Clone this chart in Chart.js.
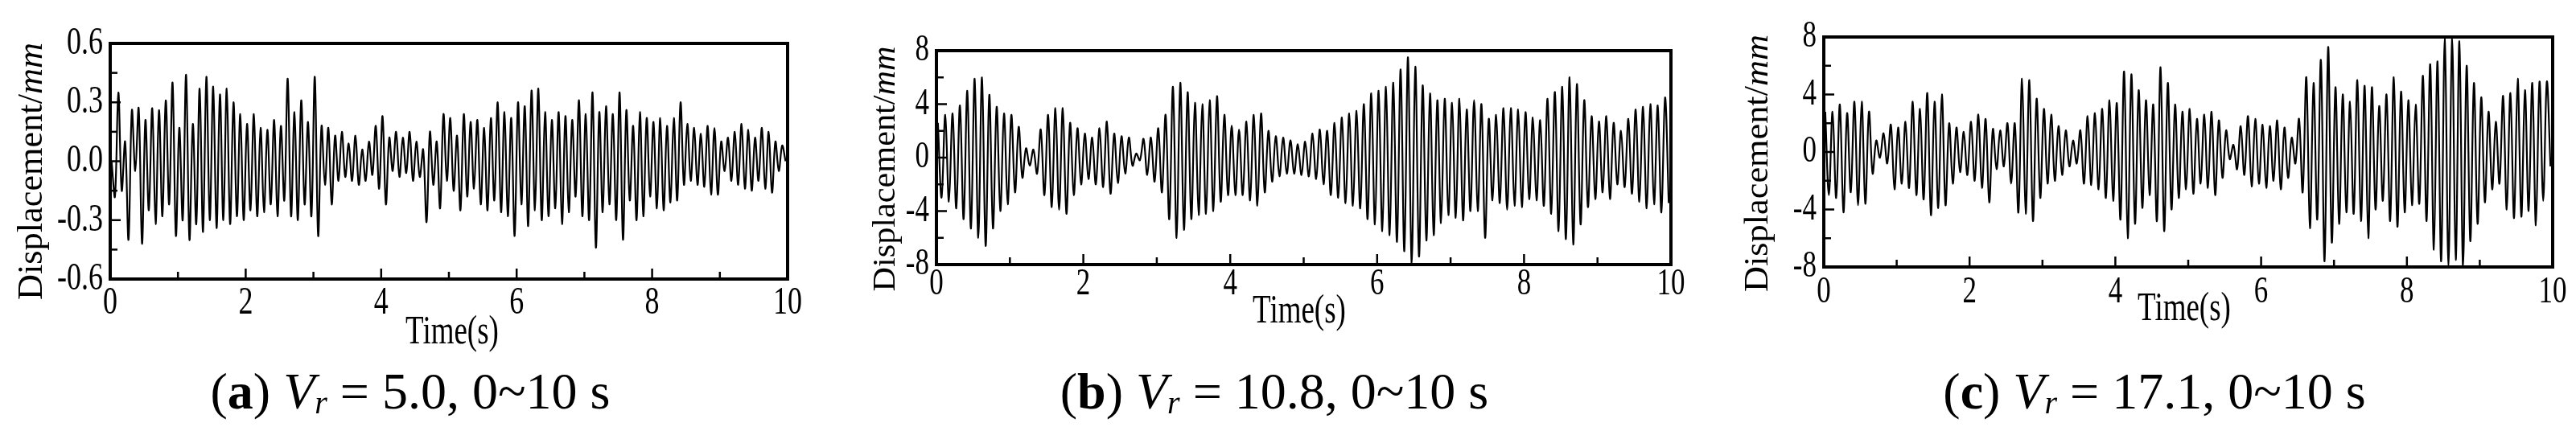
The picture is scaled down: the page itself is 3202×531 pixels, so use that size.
<!DOCTYPE html>
<html><head><meta charset="utf-8">
<script src="https://cdn.jsdelivr.net/npm/chart.js@4"></script>
<style>html,body{margin:0;padding:0;background:#fff;width:3202px;height:531px;overflow:hidden}
canvas{position:absolute;top:0}</style></head>
<body>
<canvas id="ca" style="left:0px" width="1050" height="531"></canvas>
<canvas id="cb" style="left:1050px" width="1100" height="531"></canvas>
<canvas id="cc" style="left:2150px" width="1052" height="531"></canvas>
<script>
// Extremes (peak, trough) for each 0.1 s step
const seriesA = [0.0,-0.18, 0.35,-0.15, 0.10,-0.40, 0.26,-0.05, 0.27,-0.42, 0.21,-0.25, 0.27,-0.32, 0.26,-0.28, 0.31,-0.22, 0.40,-0.38,
0.17,-0.30, 0.44,-0.40, 0.19,-0.32, 0.37,-0.36, 0.43,-0.30, 0.38,-0.34, 0.34,-0.30, 0.37,-0.32, 0.30,-0.28, 0.24,-0.30,
0.19,-0.25, 0.24,-0.28, 0.17,-0.26, 0.16,-0.22, 0.21,-0.28, 0.18,-0.20, 0.42,-0.28, 0.25,-0.30, 0.31,-0.22, 0.20,-0.28,
0.43,-0.38, 0.18,-0.12, 0.17,-0.22, 0.13,-0.10, 0.15,-0.08, 0.09,-0.10, 0.13,-0.12, 0.06,-0.10, 0.10,-0.07, 0.18,-0.14,
0.23,-0.22, 0.12,-0.05, 0.15,-0.08, 0.12,-0.06, 0.15,-0.10, 0.10,-0.08, 0.06,-0.31, 0.15,-0.12, 0.10,-0.24, 0.24,-0.10,
0.22,-0.15, 0.13,-0.25, 0.24,-0.18, 0.20,-0.14, 0.21,-0.22, 0.17,-0.25, 0.22,-0.20, 0.30,-0.26, 0.25,-0.28, 0.22,-0.38,
0.30,-0.22, 0.28,-0.33, 0.36,-0.25, 0.37,-0.30, 0.25,-0.28, 0.21,-0.24, 0.25,-0.32, 0.23,-0.26, 0.21,-0.18, 0.31,-0.28,
0.24,-0.30, 0.35,-0.44, 0.25,-0.26, 0.28,-0.22, 0.24,-0.30, 0.35,-0.40, 0.26,-0.20, 0.18,-0.30, 0.25,-0.28, 0.22,-0.18,
0.20,-0.24, 0.22,-0.25, 0.18,-0.21, 0.22,-0.20, 0.30,-0.12, 0.19,-0.10, 0.17,-0.12, 0.14,-0.13, 0.18,-0.17, 0.17,-0.17,
0.10,-0.05, 0.12,-0.10, 0.15,-0.12, 0.19,-0.14, 0.16,-0.15, 0.12,-0.10, 0.17,-0.14, 0.15,-0.16, 0.10,-0.05, 0.08,0.0];
const seriesB = [2.6,-3.0, 3.2,-3.3, 3.3,-3.8, 3.9,-4.6, 5.0,-5.3, 5.9,-6.0, 6.0,-6.6, 4.7,-5.3, 3.8,-4.0, 3.3,-3.5,
3.2,-2.6, 2.3,-1.5, 0.7,-0.6, 0.6,-1.2, 2.1,-2.8, 3.2,-3.7, 3.7,-3.9, 3.7,-4.2, 2.6,-2.8, 2.2,-2.0,
1.8,-1.6, 1.5,-2.0, 2.2,-2.2, 2.7,-2.7, 1.8,-1.9, 1.6,-1.2, 1.5,-0.6, 0.3,-0.2, 1.4,-1.3, 1.5,-1.8,
2.2,-2.6, 3.2,-4.6, 5.3,-6.0, 5.6,-5.4, 4.9,-4.6, 4.1,-4.3, 4.0,-4.2, 4.3,-4.0, 4.6,-3.3, 3.2,-2.8,
2.4,-2.8, 2.1,-2.8, 2.7,-3.2, 3.2,-3.6, 3.3,-2.6, 2.0,-1.8, 1.6,-1.4, 1.5,-1.2, 1.3,-1.2, 1.0,-1.3,
1.2,-1.4, 1.8,-1.6, 2.1,-2.0, 2.0,-2.8, 2.6,-3.0, 3.0,-3.4, 3.3,-3.6, 3.5,-3.8, 4.0,-4.6, 4.8,-5.0,
5.0,-5.5, 5.3,-5.8, 5.6,-6.3, 6.6,-7.0, 7.5,-8.0, 6.8,-7.4, 5.4,-6.2, 4.8,-5.8, 4.3,-4.9, 4.4,-4.3,
4.1,-4.5, 4.4,-4.7, 3.6,-4.0, 4.3,-4.0, 4.0,-6.0, 2.9,-3.2, 3.2,-3.4, 3.7,-3.9, 3.7,-3.6, 3.6,-3.7,
3.4,-3.1, 3.0,-3.2, 2.8,-3.6, 4.4,-4.2, 4.9,-5.5, 5.3,-6.1, 6.0,-6.5, 5.5,-5.0, 4.3,-3.7, 3.1,-3.1,
2.7,-2.6, 3.1,-3.1, 2.6,-2.0, 2.0,-2.2, 2.9,-2.7, 3.6,-3.3, 3.8,-3.8, 4.0,-3.5, 3.9,-4.1, 4.5,-3.4];
const seriesC = [2.8,-3.0, 2.8,-3.2, 3.3,-4.2, 2.7,-2.8, 3.5,-3.7, 3.5,-3.6, 2.8,-1.5, 0.8,-0.4, 1.3,-0.8, 1.9,-2.6,
1.7,-2.2, 2.1,-2.5, 3.5,-3.0, 3.0,-3.3, 4.1,-4.4, 3.5,-3.9, 4.0,-3.7, 2.0,-2.2, 1.7,-1.4, 1.4,-1.6,
2.1,-2.0, 2.6,-2.5, 2.3,-3.5, 1.6,-1.2, 1.5,-1.0, 2.0,-2.2, 2.0,-4.2, 5.1,-4.3, 5.0,-4.8, 3.7,-3.2,
3.0,-2.2, 2.6,-2.0, 1.8,-1.6, 1.5,-1.0, 0.8,-0.8, 1.5,-2.2, 2.5,-2.3, 2.7,-2.6, 3.0,-3.2, 3.6,-3.4,
3.4,-4.7, 5.6,-6.0, 5.4,-5.0, 4.3,-3.9, 3.6,-3.0, 3.3,-4.8, 5.9,-5.5, 4.8,-4.0, 3.3,-3.2, 2.8,-2.6,
3.0,-2.9, 2.3,-2.2, 2.6,-2.5, 2.8,-3.0, 2.2,-1.8, 1.5,-0.5, 0.5,-1.2, 1.8,-1.6, 2.5,-2.4, 2.3,-2.2,
1.9,-2.5, 1.8,-2.0, 2.2,-2.6, 1.7,-1.8, 1.0,-0.8, 2.3,-2.8, 5.2,-5.3, 4.8,-4.7, 6.4,-7.6, 7.3,-6.3,
4.5,-5.0, 4.0,-4.2, 3.5,-4.3, 5.0,-4.8, 4.6,-6.0, 4.5,-4.0, 3.2,-3.4, 4.0,-4.8, 5.2,-5.2, 4.2,-4.2,
3.6,-3.7, 3.3,-3.6, 5.3,-4.8, 6.1,-6.8, 6.3,-7.6, 8.0,-8.0, 8.0,-7.5, 7.7,-8.0, 6.0,-6.2, 4.8,-5.0,
3.8,-3.5, 2.8,-2.6, 2.1,-2.2, 3.9,-4.0, 4.1,-4.6, 5.1,-4.5, 4.3,-4.1, 4.8,-5.1, 4.9,-3.4, 4.9,-1.0];
const xTicks = [0,2,4,6,8,10];
const yTicksA = [-0.6,-0.3,0.0,0.3,0.6];
const yTicksB = [-8,-4,0,4,8];
const captions = [["a","5.0"],["b","10.8"],["c","17.1"]];

const SERIF = '"Liberation Serif", "DejaVu Serif", serif';
const VS = 1.35;

function toPoints(vals){ return vals.map((v,i)=>({x:i*0.05+0.02, y:v})); }

function stretched(c, txt, x, y, align){
  c.save(); c.translate(x,y); c.scale(1,VS);
  c.textAlign=align; c.textBaseline='middle'; c.fillText(txt,0,0); c.restore();
}

function makeChart(id, vals, yt, cfg){
  const ymin=yt[0], ymax=yt[yt.length-1];
  const deco = {
    id:'deco',
    afterDraw(ch){
      const c=ch.ctx, a=ch.chartArea, xs=ch.scales.x, ys=ch.scales.y;
      c.save();
      c.strokeStyle='#000'; c.fillStyle='#000'; c.lineWidth=2.5;
      for(let t=0;t<=10;t++){
        const px=xs.getPixelForValue(t), L=(t%2===0)?13:9;
        c.beginPath(); c.moveTo(px,a.bottom); c.lineTo(px,a.bottom-L); c.stroke();
      }
      const step=(yt[1]-yt[0])/2;
      for(let k=0;k<=8;k++){
        const v=ymin+k*step, py=ys.getPixelForValue(v), L=(k%2===0)?13:9;
        c.beginPath(); c.moveTo(a.left,py); c.lineTo(a.left+L,py); c.stroke();
      }
      c.lineWidth=4;
      c.strokeRect(a.left,a.top,a.right-a.left,a.bottom-a.top);
      c.font=cfg.tfs+'px '+SERIF;
      xTicks.forEach(v=>stretched(c, String(v), xs.getPixelForValue(v), cfg.xly, 'center'));
      yt.forEach(v=>stretched(c, v.toFixed(cfg.dec), a.left-9, ys.getPixelForValue(v), 'right'));
      c.save();
      c.translate(cfg.ytx, cfg.yty); c.rotate(-Math.PI/2);
      const fs=cfg.yfs;
      const f1=fs+'px '+SERIF, f2='italic '+fs+'px '+SERIF;
      c.font=f1; const w1=c.measureText('Displacement/').width;
      c.font=f2; const w2=c.measureText('mm').width;
      c.scale(cfg.ylen/(w1+w2),1);
      c.textBaseline='alphabetic'; c.textAlign='left';
      c.font=f1; c.fillText('Displacement/',-(w1+w2)/2,0);
      c.font=f2; c.fillText('mm',-(w1+w2)/2+w1,0);
      c.restore();
      c.font='37px '+SERIF;
      stretched(c,'Time(s)', cfg.xtx, cfg.xty, 'center');
      const cap=cfg.cap, F=64, FS=40;
      const parts=[['(',F+'px '+SERIF,0],[cap[0],'bold '+F+'px '+SERIF,0],[') ',F+'px '+SERIF,0],
        ['V','italic '+F+'px '+SERIF,0],['r','italic '+FS+'px '+SERIF,6],[' = '+cap[1]+', 0~10 s',F+'px '+SERIF,0]];
      let tot=0; parts.forEach(p=>{c.font=p[1]; p.push(c.measureText(p[0]).width); tot+=p[3];});
      let x=cfg.capx-tot/2;
      c.textAlign='left'; c.textBaseline='alphabetic';
      parts.forEach(p=>{c.font=p[1]; c.fillText(p[0],x,cfg.capy+p[2]); x+=p[3];});
      c.restore();
    }
  };
  return new Chart(document.getElementById(id), {
    type:'line',
    data:{datasets:[{data:toPoints(vals), borderColor:'#000', borderWidth:2.2, pointRadius:0, tension:0.35, fill:false}]},
    options:{
      responsive:false, animation:false,
      layout:{padding:{top:cfg.top, right:cfg.right, left:0, bottom:0}},
      plugins:{legend:{display:false}, tooltip:{enabled:false}},
      scales:{
        x:{type:'linear', min:0, max:10,
          afterFit(s){ s.height=cfg.bottomH; },
          afterBuildTicks(s){ s.ticks=xTicks.map(v=>({value:v})); },
          grid:{display:false, drawTicks:false}, border:{display:false},
          ticks:{display:false}},
        y:{type:'linear', min:ymin, max:ymax,
          afterFit(s){ s.width=cfg.leftW; },
          afterBuildTicks(s){ s.ticks=yt.map(v=>({value:v})); },
          grid:{display:false, drawTicks:false}, border:{display:false},
          ticks:{display:false}}
      }
    },
    plugins:[deco]
  });
}

makeChart('ca', seriesA, yTicksA, {dec:1, tfs:36, top:54, right:71, leftW:137, bottomH:184, xly:377,
  ytx:52, yty:213, ylen:320, yfs:44, xtx:562, xty:414, cap:captions[0], capx:510, capy:508});
makeChart('cb', seriesB, yTicksB, {dec:0, tfs:35, top:63, right:73, leftW:114, bottomH:202, xly:354,
  ytx:62, yty:210, ylen:305, yfs:40, xtx:565, xty:388, cap:captions[1], capx:534, capy:508});
makeChart('cc', seriesC, yTicksB, {dec:0, tfs:35, top:46, right:29, leftW:117, bottomH:199, xly:364,
  ytx:47, yty:203, ylen:320, yfs:42, xtx:565, xty:385, cap:captions[2], capx:528, capy:508});
</script>
</body></html>
